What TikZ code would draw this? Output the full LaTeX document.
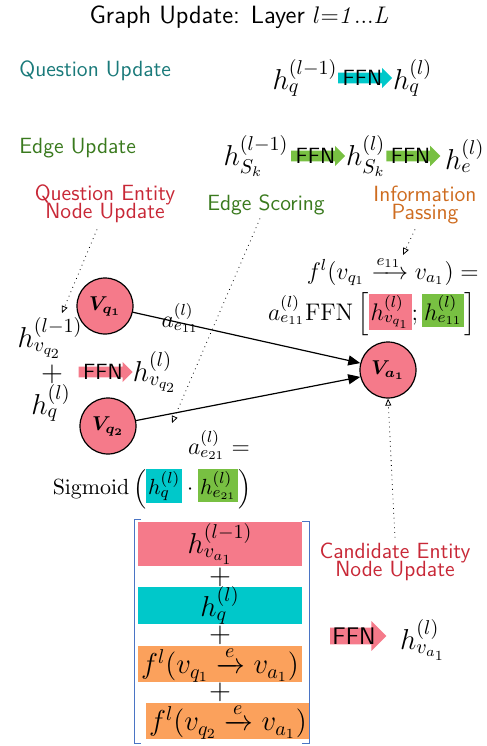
\documentclass[tikz,border=0pt]{standalone}
\usepackage{amsmath,bm}
\usepackage{tikz}
\usetikzlibrary{shapes,shapes.arrows,arrows.meta,positioning}
\usepackage{xcolor}

\definecolor{vpink}{RGB}{245,122,138}
\definecolor{qcyan}{RGB}{0,200,202}
\definecolor{egreen}{RGB}{120,192,66}
\definecolor{forange}{RGB}{251,161,92}
\definecolor{qteal}{RGB}{26,122,122}
\definecolor{edgegreen}{RGB}{58,122,30}
\definecolor{nodered}{RGB}{200,40,55}
\definecolor{infoorange}{RGB}{206,108,32}
\definecolor{bracketblue}{RGB}{74,116,196}

\setlength{\fboxsep}{1pt}

\begin{document}
\begin{tikzpicture}[x=0.5pt,y=-0.5pt,
	  every node/.style={align=center,inner sep=0pt,draw=none},
	  math/.style={font=\Large},
	  smallmath/.style={font=\large},
	  stage/.style={font=\fontsize{11}{12}\selectfont\sffamily,align=center},
	  entity/.style={semithick,circle,draw=black,fill=vpink,minimum size=28pt,font=\normalsize},
	  ffn/.style={single arrow,single arrow head extend=2.3pt,inner xsep=1pt,inner ysep=-1.3pt,minimum height=27pt,font=\fontsize{11}{12}\selectfont\sffamily},
	  sumbox/.style={minimum width=82pt,font=\Large},
	  link/.style={-{Triangle[length=6pt,width=5pt]},semithick},
	  hint/.style={dotted,-{Triangle[open,length=3.5pt,width=3pt]}}]

	  \useasboundingbox (0,0) rectangle (487,746);

	  \node[font=\fontsize{12.5}{14}\selectfont\sffamily] (title) at (239,17) {Graph Update: Layer $l{=}\mathit{1...L}$};

	  % Question and edge updates
	  \node[stage,text=qteal,anchor=west] (qupdate) at (19,71) {Question Update};
	  \node[stage,text=edgegreen,anchor=west] (eupdate) at (19,148) {Edge Update};

	  \node[math] (hqold) at (305,78) {$h_q^{(l-1)}$};
	  \node[ffn,fill=qcyan,right=0pt of hqold] (ffnq) {FFN};
	  \node[math,right=0pt of ffnq] (hqnew) {$h_q^{(l)}$};

	  \node[math] (hsold) at (256,156) {$h_{S_k}^{(l-1)}$};
	  \node[ffn,fill=egreen,right=1pt of hsold] (ffns1) {FFN};
	  \node[math,right=0pt of ffns1] (hsnew) {$h_{S_k}^{(l)}$};
	  \node[ffn,fill=egreen,right=0pt of hsnew] (ffns2) {FFN};
	  \node[math,right=2pt of ffns2] (henew) {$h_e^{(l)}$};

	  % Stage labels
	  \node[stage,text=nodered] (qelabel) at (105,204) {Question Entity\\[-3pt]Node Update};
	  \node[stage,text=edgegreen] (eslabel) at (266,205) {Edge Scoring};
	  \node[stage,text=infoorange] (iplabel) at (425,205) {Information\\[-3pt]Passing};
	  \node[stage,text=nodered] (calabel) at (395,562) {Candidate Entity\\[-3pt]Node Update};

	  % Graph
	  \node[entity] (vq1) at (105,306) {$\bm{V_{q_1}}$};
	  \node[entity] (vq2) at (108,426) {$\bm{V_{q_2}}$};
	  \node[entity] (va1) at (388,370) {$\bm{V_{a_1}}$};

	  \draw[link] (vq1) -- (va1.166);
	  \draw[link] (vq2) -- (va1.194);
	  \node[smallmath] (ae11) at (180,318) {$a_{e_{11}}^{(l)}$};

	  % Question entity node update
	  \node[math] (hvqold) at (50,338) {$h_{v_{q_2}}^{(l-1)}$};
	  \node[math] (plusq) at (52,374) {$+$};
	  \node[math] (hqleft) at (51,403) {$h_q^{(l)}$};
	  \node[ffn,fill=vpink] (ffnv) at (103,372) {FFN};
	  \node[math] (hvqnew) at (155,372) {$h_{v_{q_2}}^{(l)}$};

	  % Information passing
	  \node[smallmath,anchor=east] (fpass) at (479,271) {$f^l(v_{q_1}\xrightarrow{e_{11}}v_{a_1}) =$};
	  \node[smallmath,anchor=east] (fffn) at (476,314) {$a_{e_{11}}^{(l)}\mathrm{FFN}\left[\colorbox{vpink}{$h_{v_{q_1}}^{(l)}$};\colorbox{egreen}{$h_{e_{11}}^{(l)}$}\right]$};

	  % Edge scoring
	  \node[smallmath] (ae21) at (219,445) {$a_{e_{21}}^{(l)} =$};
	  \node[font=\fontsize{11}{13}\selectfont] (sigm) at (152,489) {$\mathrm{Sigmoid}\left(\colorbox{qcyan}{$h_q^{(l)}$}\cdot\colorbox{egreen}{$h_{e_{21}}^{(l)}$}\right)$};

	  \coordinate (qetip) at (62,313);
	  \coordinate (estip) at (172,423);
	  \coordinate (iptip) at (403,255);
	  \draw[hint] ([shift={(-4pt,-3pt)}]qelabel.south) -- (qetip);
	  \draw[hint] ([shift={(-3pt,-1.5pt)}]eslabel.south) -- (estip);
	  \draw[hint] ([shift={(-5pt,-2.5pt)}]iplabel.south) -- (iptip);
	  \draw[hint] ([yshift=2.5pt]calabel.north) -- (va1.south);

	  % Candidate entity node update
	  \node[sumbox,fill=vpink,minimum height=22pt] (hvaold) at (220,544) {$h_{v_{a_1}}^{(l-1)}$};
	  \node[math] (plus1) at (220,577) {$+$};
	  \node[sumbox,fill=qcyan,minimum height=17.5pt] (hqsum) at (220,605.5) {$h_q^{(l)}$};
	  \node[math] (plus2) at (220,635) {$+$};
	  \node[sumbox,fill=forange,minimum height=18pt] (fq1) at (220,664) {$f^l(v_{q_1}\xrightarrow{e}v_{a_1})$};
	  \node[math] (plus3) at (220,692) {$+$};
	  \node[sumbox,fill=forange,minimum height=18pt] (fq2) at (228,721) {$f^l(v_{q_2}\xrightarrow{e}v_{a_1})$};

	  \draw[bracketblue,thin] (141,519) -- (134,519) -- (134,743) -- (141,743);
	  \draw[bracketblue,thin] (302,521) -- (309,521) -- (309,743) -- (302,743);

	  \node[ffn,fill=vpink,font=\sffamily\large,minimum height=28pt,single arrow head extend=3.3pt,inner ysep=-0.2pt] (ffna) at (354,636) {FFN};
	  \node[math] (hvanew) at (423,640) {$h_{v_{a_1}}^{(l)}$};
\end{tikzpicture}
\end{document}
